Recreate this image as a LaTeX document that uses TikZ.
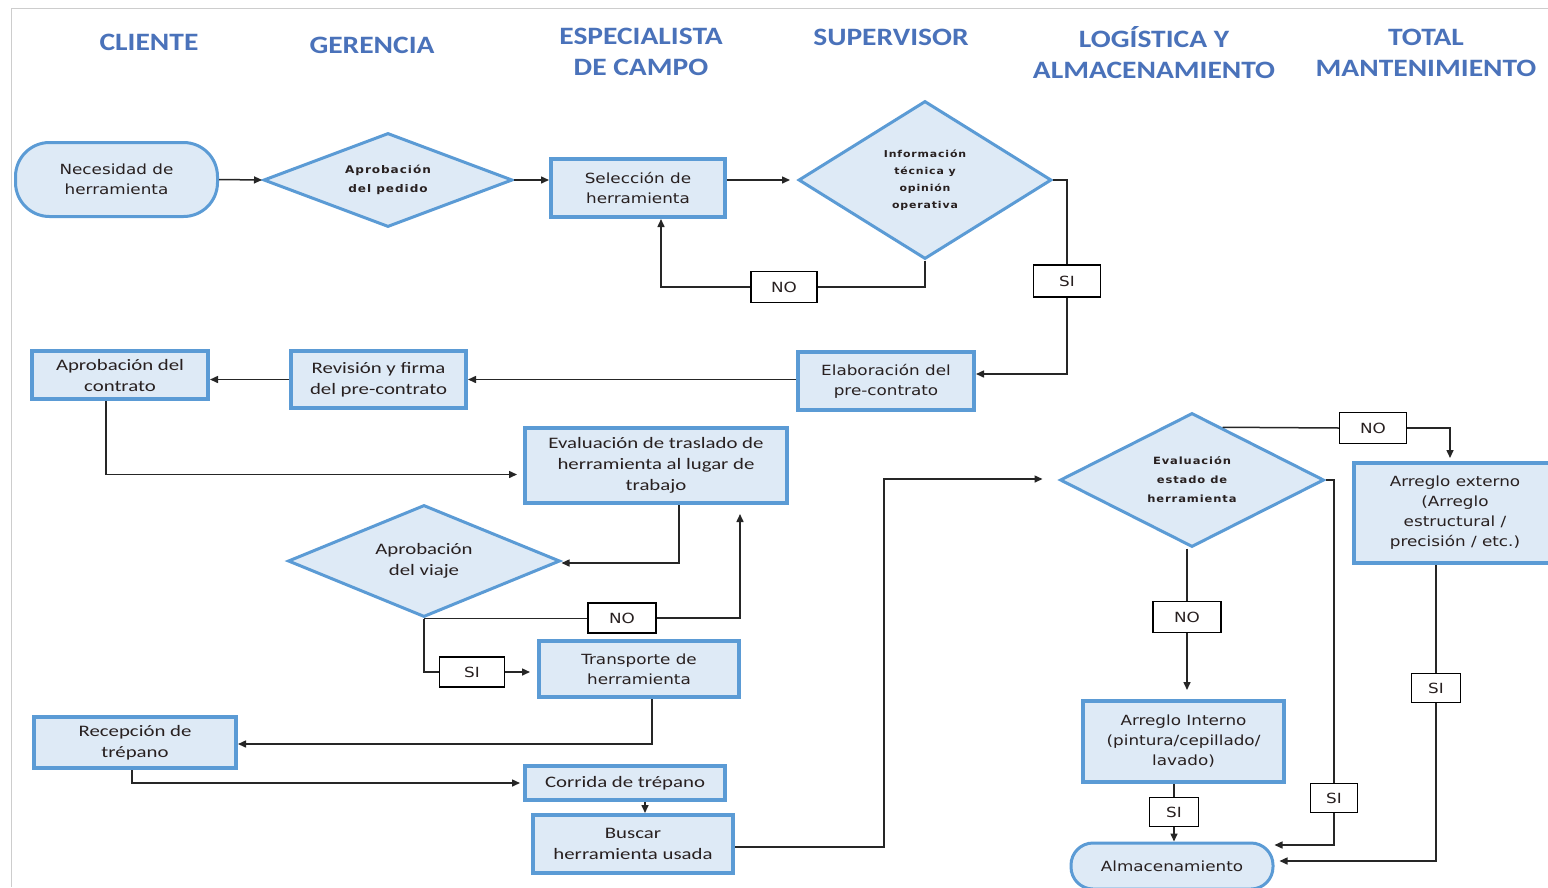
\documentclass[tikz,border=0pt]{standalone}
\usepackage{fontspec}
\setmainfont{DejaVu Sans}[FakeStretch=1.2]
\newfontfamily\calfont{Carlito}[FakeStretch=1.3]
\newfontfamily\hdrfont{Carlito}[FakeStretch=1.18]
\newfontfamily\tightfont{DejaVu Sans}[FakeStretch=1.15, LetterSpace=9]
\usetikzlibrary{shapes.geometric, arrows.meta, calc}

\definecolor{laneblue}{RGB}{74,114,186}
\definecolor{edgeblue}{RGB}{91,155,213}
\definecolor{fillblue}{RGB}{222,234,246}
\definecolor{inkdark}{RGB}{40,32,32}
\definecolor{framegray}{RGB}{205,205,205}

\tikzset{
  lane/.style={font=\hdrfont\bfseries\fontsize{25}{31}\selectfont, text=laneblue, align=center, inner sep=0pt},
  procbox/.style={rectangle, draw=edgeblue, line width=4pt, fill=fillblue, inner sep=0pt,
    align=center, text=inkdark, font=\fontsize{14}{20}\selectfont},
  calbox/.style={procbox, font=\calfont\fontsize{16}{21}\selectfont},
  decision/.style={diamond, draw=edgeblue, line width=3pt, fill=fillblue, inner sep=0pt,
    align=center, text=inkdark},
  terminal/.style={rectangle, draw=edgeblue, line width=3pt, fill=fillblue, inner sep=0pt,
    align=center, text=inkdark, font=\fontsize{14}{20}\selectfont},
  tag/.style={rectangle, draw=black, line width=1.2pt, fill=white, inner sep=0pt,
    text=inkdark, font=\fontsize{14}{16}\selectfont},
  flow/.style={draw=black!85, line width=1.5pt},
  arrow/.style={flow, -{Triangle[length=8pt,width=7pt]}}
}

\begin{document}
\begin{tikzpicture}[x=1pt, y=-1pt]
\useasboundingbox (0,0) rectangle (1548,887);
\fill[white] (0,0) rectangle (1548,887);
\draw[framegray, line width=1pt] (1548,8) -- (11,8) -- (11,887);

% swimlane headings
\node[lane] (hcli) at (149,42) {CLIENTE};
\node[lane] (hger) at (372,45) {GERENCIA};
\node[lane] (hesp) at (641,52) {ESPECIALISTA\\DE CAMPO};
\node[lane] (hsup) at (891,37) {SUPERVISOR};
\node[lane] (hlog) at (1154,53) {LOGÍSTICA Y\\ALMACENAMIENTO};
\node[lane] (htot) at (1426,53) {TOTAL\\MANTENIMIENTO};

% steps
\node[terminal, minimum width=202, minimum height=74, rounded corners=34] (nec) at (116.5,179.5) {Necesidad de\\herramienta};
\node[decision, minimum width=249, minimum height=94, aspect=2.6,
  font=\tightfont\bfseries\fontsize{10.5}{19}\selectfont] (aprped) at (388,180) {Aprobación\\del pedido};
\node[procbox, minimum width=174, minimum height=58] (sel) at (638,188) {Selección de\\herramienta};
\node[decision, minimum width=253, minimum height=158, aspect=1.59,
  font=\tightfont\bfseries\fontsize{9.5}{17}\selectfont] (info) at (925,180) {Información\\técnica y\\opinión\\operativa};
\node[tag, minimum width=66, minimum height=31] (no1) at (784,287) {NO};
\node[tag, minimum width=67, minimum height=32] (si1) at (1067,281) {SI};

\node[procbox, minimum width=176, minimum height=58] (elab) at (886,381) {Elaboración del\\pre-contrato};
\node[calbox, minimum width=175, minimum height=57] (rev) at (378.5,379.5) {Revisión y firma\\del pre-contrato};
\node[calbox, minimum width=176, minimum height=48] (aprcon) at (120,375) {Aprobación del\\contrato};
\node[calbox, minimum width=262, minimum height=75] (eval) at (656,465.5) {Evaluación de traslado de\\herramienta al lugar de\\trabajo};
\node[decision, minimum width=272, minimum height=112, aspect=2.4,
  font=\calfont\fontsize{16}{21}\selectfont] (aprvia) at (424,561) {Aprobación\\del viaje};
\node[tag, minimum width=68, minimum height=30] (no2) at (622,618) {NO};
\node[tag, minimum width=65, minimum height=30] (si2) at (472,672) {SI};
\node[procbox, minimum width=200, minimum height=56] (trans) at (639,669) {Transporte de\\herramienta};
\node[calbox, minimum width=202, minimum height=51] (rec) at (135,742.5) {Recepción de\\trépano};
\node[calbox, minimum width=200, minimum height=34] (corr) at (625,783) {Corrida de trépano};
\node[calbox, minimum width=200, minimum height=58] (buscar) at (633,844) {Buscar\\herramienta usada};

\node[decision, minimum width=264, minimum height=134, aspect=1.95,
  font=\tightfont\bfseries\fontsize{10}{19}\selectfont] (evalest) at (1192,480) {Evaluación\\estado de\\herramienta};
\node[tag, minimum width=67, minimum height=31] (no3) at (1373,428) {NO};
\node[procbox, minimum width=202, minimum height=100] (arrext) at (1455,513) {Arreglo externo\\(Arreglo\\estructural /\\precisión / etc.)};
\node[tag, minimum width=68, minimum height=31] (no4) at (1187,617) {NO};
\node[procbox, minimum width=201, minimum height=81] (arrint) at (1183.5,741.5) {Arreglo Interno\\(pintura/cepillado/\\lavado)};
\node[tag, minimum width=49, minimum height=29] (si3) at (1174,812) {SI};
\node[tag, minimum width=47, minimum height=29] (si4) at (1334,798) {SI};
\node[tag, minimum width=49, minimum height=29] (si5) at (1436,688) {SI};
\node[terminal, minimum width=202, minimum height=46, rounded corners=22] (alm) at (1172,866) {Almacenamiento};

% connectors
\draw[arrow] (nec.east) -- (aprped.west);
\draw[arrow] (aprped.east) -- (aprped.east -| sel.west);
\draw[arrow] (aprped.east -| sel.east) -- ($(info.west)+(-7,0)$);
\draw[flow] (info.south) |- (no1.east);
\draw[arrow] (no1.west) -| ($(sel.south)+(23,0)$);
\draw[flow] (info.east) -| (si1.north);
\draw[arrow] (si1.south) |- ($(elab.east)+(0,-7)$);
\draw[arrow] (elab.west |- rev.east) -- (rev.east);
\draw[arrow] (rev.west) -- (rev.west -| aprcon.east);
\draw[arrow] ($(aprcon.south)+(-14,0)$) |- ($(eval.west)+(-6,9)$);
\draw[arrow] ($(eval.south)+(23,0)$) |- ($(aprvia.east)+(0,2)$);
\draw[flow] (aprvia.south) -- (aprvia.south -| no2.west);
\draw[arrow] (no2.east) -| ($(eval.south)+(84,9)$);
\draw[flow] (aprvia.south) |- (si2.west);
\draw[arrow] (si2.east) -- ($(si2.east -| trans.west)+(-7,0)$);
\draw[arrow] ($(trans.south)+(13,0)$) |- ($(rec.east)+(0,1.5)$);
\draw[arrow] ($(rec.south)+(-3,0)$) |- ($(corr.west)+(-3,0)$);
\draw[arrow] ($(corr.south)+(20,0)$) -- ($(buscar.north)+(12,0)$);
\draw[arrow] ($(buscar.east)+(0,3)$) -- ++(149,0) |- ($(evalest.west)+(-16,-1)$);
\draw[flow] ($(evalest.north)!0.23!(evalest.east)$) -- (no3.west);
\draw[arrow] (no3.east) -| ($(arrext.north)+(-5,-3)$);
\draw[flow] (evalest.east) -| (si4.north);
\draw[arrow] (si4.south) |- ($(alm.east)+(0,-21)$);
\draw[flow] (evalest.south -| no4.north) -- (no4.north);
\draw[arrow] (no4.south) -- ($(no4.south |- arrint.north)+(0,-9)$);
\draw[flow] (arrint.south -| si3.north) -- (si3.north);
\draw[arrow] (si3.south) -- (si3.south |- alm.north);
\draw[flow] (arrext.south -| si5.north) -- (si5.north);
\draw[arrow] (si5.south) |- ($(alm.east)+(5,-5)$);
\end{tikzpicture}
\end{document}
